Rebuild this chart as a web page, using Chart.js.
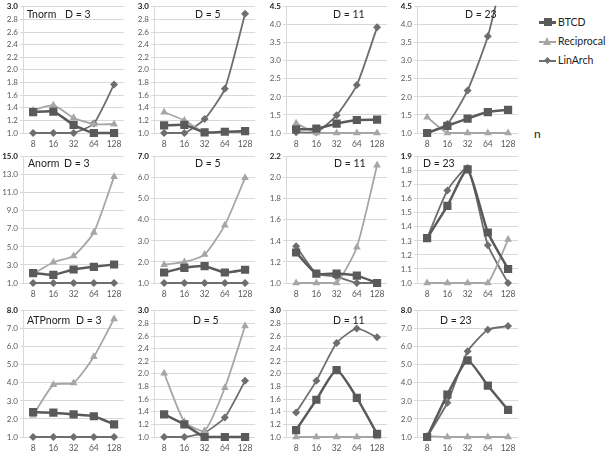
<!DOCTYPE html>
<html lang="en">
<head>
    <meta charset="UTF-8">
    <script src="https://cdn.jsdelivr.net/npm/chart.js"></script>
    <title>Normalised results</title>
    <style>
        body {
            margin: 0;
            background: #fff;
            font-family: Lato, "Liberation Sans", Arial, sans-serif;
        }
        #wrap {
            position: relative;
            width: 607px;
            height: 455px;
            overflow: hidden;
        }
        canvas {
            position: absolute;
        }
        .legend-item {
            position: absolute;
            left: 539px;
            height: 12px;
            font-size: 10.5px;
            color: #222;
        }
        .legend-item .line {
            position: absolute;
            left: 0;
            top: 5px;
            width: 17px;
            height: 2px;
        }
        .legend-item .mark {
            position: absolute;
        }
        .legend-item span.txt {
            position: absolute;
            left: 19px;
            top: -1px;
            white-space: nowrap;
        }
        #nlabel {
            position: absolute;
            left: 534px;
            top: 126px;
            font-size: 12px;
            color: #222;
        }
    </style>
</head>
<body>
<div id="wrap">
    <div class="legend-item" style="top:17px">
        <div class="line" style="background:#5a5a5a;height:3px;top:4px"></div>
        <div class="mark" style="left:5px;top:1px;width:8px;height:8px;background:#5a5a5a"></div>
        <span class="txt">BTCD</span>
    </div>
    <div class="legend-item" style="top:36px">
        <div class="line" style="background:#a6a6a6"></div>
        <div class="mark" style="left:4px;top:1px;width:0;height:0;border-left:4.5px solid transparent;border-right:4.5px solid transparent;border-bottom:8px solid #a6a6a6"></div>
        <span class="txt">Reciprocal</span>
    </div>
    <div class="legend-item" style="top:55px">
        <div class="line" style="background:#6e6e6e"></div>
        <div class="mark" style="left:6px;top:3px;width:5px;height:5px;background:#6e6e6e;transform:rotate(45deg)"></div>
        <span class="txt">LinArch</span>
    </div>
    <div id="nlabel">n</div>
</div>

<script>
    // Категории по оси X
    const nLabels = ['8', '16', '32', '64', '128'];
    const metrics = ['Tnorm', 'Anorm', 'ATPnorm'];
    const dims = ['D = 3', 'D = 5', 'D = 11', 'D = 23'];

    // Значения: по одной строке на D = 3, 5, 11, 23
    const tnormBTCD = [
        [1.33, 1.34, 1.13, 1.0, 1.0],
        [1.12, 1.13, 1.01, 1.02, 1.03],
        [1.10, 1.12, 1.26, 1.36, 1.37],
        [1.0, 1.20, 1.40, 1.58, 1.64]
    ];
    const tnormReciprocal = [
        [1.36, 1.44, 1.24, 1.14, 1.14],
        [1.33, 1.20, 1.01, 1.01, 1.01],
        [1.27, 1.0, 1.0, 1.0, 1.0],
        [1.44, 1.0, 1.0, 1.0, 1.0]
    ];
    const tnormLinArch = [
        [1.0, 1.0, 1.0, 1.15, 1.77],
        [1.0, 1.0, 1.22, 1.70, 2.89],
        [1.02, 1.02, 1.49, 2.33, 3.93],
        [1.0, 1.25, 2.18, 3.68, 6.0]
    ];

    const anormBTCD = [
        [2.1, 1.9, 2.5, 2.8, 3.05],
        [1.5, 1.72, 1.8, 1.5, 1.63],
        [1.29, 1.09, 1.09, 1.07, 1.0],
        [1.32, 1.55, 1.81, 1.36, 1.10]
    ];
    const anormReciprocal = [
        [2.0, 3.3, 4.0, 6.6, 12.8],
        [1.87, 2.0, 2.35, 3.75, 6.0],
        [1.0, 1.0, 1.0, 1.34, 2.12],
        [1.0, 1.0, 1.0, 1.0, 1.31]
    ];
    const anormLinArch = [
        [1.0, 1.0, 1.0, 1.0, 1.0],
        [1.0, 1.0, 1.0, 1.0, 1.0],
        [1.35, 1.09, 1.06, 1.0, 1.0],
        [1.32, 1.66, 1.82, 1.27, 1.0]
    ];

    const atpnormBTCD = [
        [2.38, 2.35, 2.25, 2.15, 1.7],
        [1.36, 1.20, 1.0, 1.0, 1.0],
        [1.11, 1.59, 2.06, 1.62, 1.05],
        [1.0, 3.35, 5.25, 3.85, 2.5]
    ];
    const atpnormReciprocal = [
        [2.2, 3.9, 4.0, 5.45, 7.55],
        [2.01, 1.24, 1.10, 1.78, 2.76],
        [1.0, 1.0, 1.0, 1.0, 1.0],
        [1.05, 1.0, 1.0, 1.0, 1.0]
    ];
    const atpnormLinArch = [
        [1.0, 1.0, 1.0, 1.0, 1.0],
        [1.0, 1.0, 1.07, 1.31, 1.89],
        [1.39, 1.89, 2.49, 2.72, 2.58],
        [1.0, 2.9, 5.75, 6.95, 7.15]
    ];

    // Шкалы Y
    const yMaxes = [[3.0, 3.0, 4.5, 4.5], [15.0, 7.0, 2.2, 1.9], [8.0, 3.0, 3.0, 8.0]];
    const ySteps = [[0.2, 0.2, 0.5, 0.5], [2.0, 1.0, 0.2, 0.1], [1.0, 0.2, 0.2, 1.0]];

    const allData = [
        [tnormBTCD, tnormReciprocal, tnormLinArch],
        [anormBTCD, anormReciprocal, anormLinArch],
        [atpnormBTCD, atpnormReciprocal, atpnormLinArch]
    ];

    // Положение панелей
    const colLeft = [0, 131, 263, 394];
    const rowTop = [0, 150, 304];
    const titleDy = [8, 7, 10];
    const metricDx = [4, 5, 4];
    const dimDx = [[42, 41, 47, 48], [41, 41, 48, 6], [53, 39, 47, 23]];
    const fontFam = 'Lato, "Liberation Sans", Arial, sans-serif';

    const panelTitle = {
        id: 'panelTitle',
        afterDraw(chart, args, opts) {
            const c = chart.ctx;
            const a = chart.chartArea;
            c.save();
            c.font = '10.5px ' + fontFam;
            c.fillStyle = '#222';
            c.textBaseline = 'middle';
            if (opts.metric) c.fillText(opts.metric, a.left + opts.mx, a.top + opts.dy);
            c.fillText(opts.dim, a.left + opts.dx, a.top + opts.dy);
            c.restore();
        }
    };

    const wrap = document.getElementById('wrap');

    function makePanel(r, c) {
        const canvas = document.createElement('canvas');
        canvas.width = 130;
        canvas.height = 153;
        canvas.style.left = colLeft[c] + 'px';
        canvas.style.top = rowTop[r] + 'px';
        wrap.appendChild(canvas);

        const max = yMaxes[r][c];
        const d = allData[r];
        const isTop = ctx => !!(ctx.tick && Math.abs(ctx.tick.value - max) < 1e-6);

        new Chart(canvas, {
            type: 'line',
            data: {
                labels: nLabels,
                datasets: [{
                    label: 'BTCD',
                    data: d[0][c],
                    borderColor: '#5a5a5a',
                    backgroundColor: '#5a5a5a',
                    borderWidth: 2.5,
                    pointStyle: 'rect',
                    pointRadius: 5.8,
                    pointBorderWidth: 0
                }, {
                    label: 'Reciprocal',
                    data: d[1][c],
                    borderColor: '#a6a6a6',
                    backgroundColor: '#a6a6a6',
                    borderWidth: 1.8,
                    pointStyle: 'triangle',
                    pointRadius: 4.5,
                    pointBorderWidth: 0
                }, {
                    label: 'LinArch',
                    data: d[2][c],
                    borderColor: '#6e6e6e',
                    backgroundColor: '#6e6e6e',
                    borderWidth: 1.8,
                    pointStyle: 'rectRot',
                    pointRadius: 4,
                    pointBorderWidth: 0
                }].map(ds => Object.assign(ds, {
                    tension: 0.18,
                    fill: false,
                    clip: {left: 8, right: 8, top: 1, bottom: 8}
                }))
            },
            options: {
                responsive: false,
                animation: false,
                events: [],
                layout: {padding: {top: 6, right: 2, left: 0, bottom: 0}},
                scales: {
                    x: {
                        offset: true,
                        grid: {display: false, drawTicks: false},
                        border: {display: false},
                        ticks: {
                            color: '#595959',
                            padding: 6,
                            maxRotation: 0,
                            autoSkip: false,
                            font: {size: 8.5, family: fontFam}
                        },
                        afterFit(scale) { scale.height = 20; }
                    },
                    y: {
                        min: 1.0,
                        max: max,
                        ticks: {
                            stepSize: ySteps[r][c],
                            padding: 2,
                            autoSkip: false,
                            color: ctx => isTop(ctx) ? '#222' : '#595959',
                            font: ctx => ({
                                size: 8,
                                family: fontFam,
                                weight: isTop(ctx) ? 'bold' : 'normal'
                            }),
                            callback: v => Number(v).toFixed(1)
                        },
                        grid: {color: '#d9d9d9', tickLength: 3},
                        border: {display: true, color: '#d9d9d9'},
                        afterFit(scale) { scale.width = 23; }
                    }
                },
                plugins: {
                    legend: {display: false},
                    tooltip: {enabled: false},
                    panelTitle: {
                        metric: c === 0 ? metrics[r] : '',
                        dim: dims[c],
                        mx: metricDx[r],
                        dx: dimDx[r][c],
                        dy: titleDy[r]
                    }
                }
            },
            plugins: [panelTitle]
        });
    }

    for (let r = 0; r < 3; r++) {
        for (let c = 0; c < 4; c++) {
            makePanel(r, c);
        }
    }
</script>
</body>
</html>
